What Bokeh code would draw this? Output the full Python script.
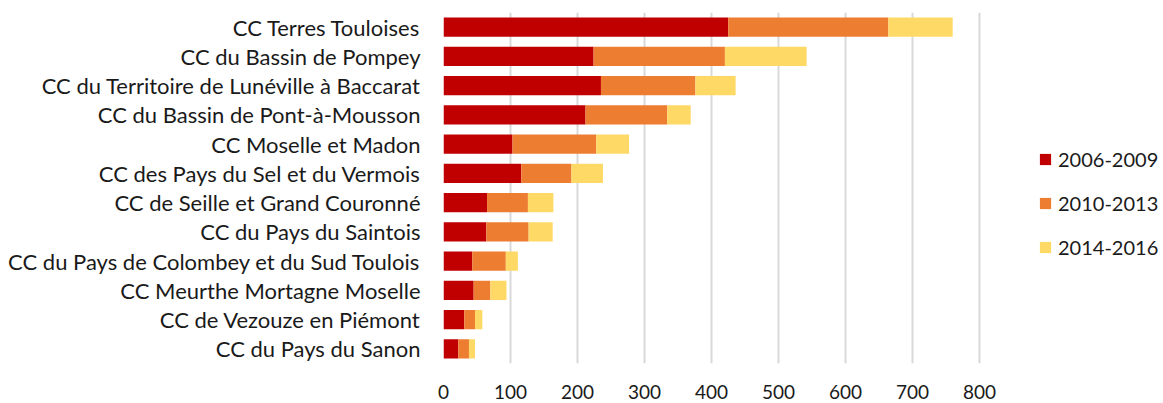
from bokeh.plotting import figure
from bokeh.models import FactorRange, FixedTicker, Legend, LegendItem, Range1d, ColumnDataSource
from bokeh.embed import file_html
from bokeh.resources import INLINE

categories = [
    "CC Terres Touloises",
    "CC du Bassin de Pompey",
    "CC du Territoire de Lunéville à Baccarat",
    "CC du Bassin de Pont-à-Mousson",
    "CC Moselle et Madon",
    "CC des Pays du Sel et du Vermois",
    "CC de Seille et Grand Couronné",
    "CC du Pays du Saintois",
    "CC du Pays de Colombey et du Sud Toulois",
    "CC Meurthe Mortagne Moselle",
    "CC de Vezouze en Piémont",
    "CC du Pays du Sanon",
]
s2006_2009 = [425, 224, 235, 212, 103, 116, 65, 64, 43, 45, 31, 22]
s2010_2013 = [239, 196, 141, 122, 125, 75, 61, 63, 50, 25, 16, 16]
s2014_2016 = [96, 122, 60, 35, 49, 47, 38, 36, 18, 24, 11, 9]
series_names = ["2006-2009", "2010-2013", "2014-2016"]
colors = ["#C00000", "#ED7D31", "#FFD966"]
x_ticks = [0, 100, 200, 300, 400, 500, 600, 700, 800]

FONT = "Lato"
TXT = "#1a1a1a"

src = ColumnDataSource(dict(cat=categories, a=s2006_2009, b=s2010_2013, c=s2014_2016))

W = 1163
LEFT = 443
p = figure(width=W, height=403, output_backend="svg", toolbar_location=None,
           y_range=FactorRange(factors=list(reversed(categories))),
           x_range=Range1d(0, 800 * (W - LEFT) / 536),
           min_border_left=LEFT, min_border_right=0, min_border_top=12, min_border_bottom=40)
p.outline_line_color = None
p.background_fill_color = "white"

rs = p.hbar_stack(["a", "b", "c"], y="cat", height=0.66, color=colors, source=src, line_color=None)

p.xaxis.ticker = FixedTicker(ticks=x_ticks)
p.xgrid.ticker = FixedTicker(ticks=x_ticks)
p.xgrid.grid_line_color = "#D9D9D9"
p.xgrid.grid_line_width = 2
p.ygrid.grid_line_color = None

for ax in (p.xaxis, p.yaxis):
    ax.axis_line_color = None
    ax.major_tick_line_color = None
    ax.minor_tick_line_color = None
    ax.major_label_text_font = FONT
    ax.major_label_text_color = TXT
p.yaxis.major_label_text_font_size = "22px"
p.xaxis.major_label_text_font_size = "19px"
p.xaxis.major_label_standoff = 15
p.yaxis.major_label_standoff = 17

legend = Legend(items=[LegendItem(label=n, renderers=[r]) for n, r in zip(series_names, rs)],
                location=(595, 104), orientation="vertical")
legend.glyph_width = 14
legend.glyph_height = 14
legend.label_height = 24
legend.label_standoff = 6
legend.spacing = 20
legend.padding = 0
legend.margin = 0
legend.border_line_color = None
legend.background_fill_alpha = 0
legend.label_text_font = FONT
legend.label_text_font_size = "20px"
legend.label_text_color = TXT
p.add_layout(legend)

open("out.html", "w").write(file_html(p, INLINE))
